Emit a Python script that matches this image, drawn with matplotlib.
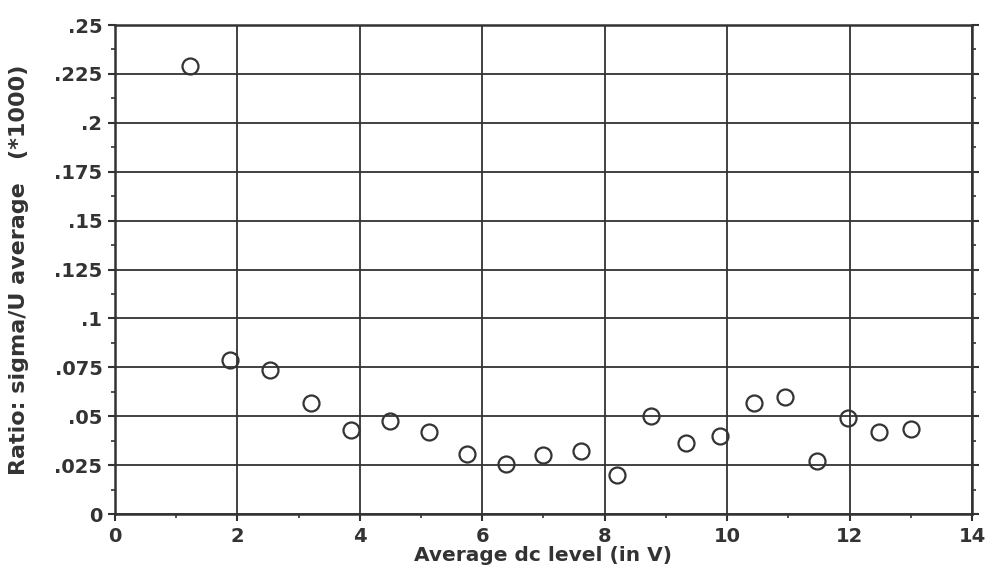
import matplotlib
matplotlib.use("Agg")
import matplotlib.pyplot as plt
import matplotlib.ticker as ticker

# Average dc level (V) and noise ratio sigma/U average (*1000)
dc_level = [1.23, 1.88, 2.53, 3.20, 3.86, 4.49, 5.13, 5.75, 6.39, 6.99, 7.61,
            8.20, 8.76, 9.33, 9.89, 10.44, 10.95, 11.47, 11.98, 12.48, 13.00]
ratio = [0.229, 0.0787, 0.0736, 0.0567, 0.0429, 0.0475, 0.0419, 0.0307, 0.0256,
         0.0302, 0.0322, 0.0199, 0.0501, 0.0363, 0.0399, 0.0567, 0.0598, 0.0271,
         0.0491, 0.0419, 0.0435]

x_ticks = [0, 2, 4, 6, 8, 10, 12, 14]
y_ticks = [0, 0.025, 0.05, 0.075, 0.1, 0.125, 0.15, 0.175, 0.2, 0.225, 0.25]
y_tick_labels = ["0", ".025", ".05", ".075", ".1", ".125", ".15", ".175", ".2",
                 ".225", ".25"]

INK = "#333333"

plt.rcParams["font.family"] = ["DejaVu Sans"]
plt.rcParams["font.weight"] = "bold"

fig = plt.figure(figsize=(9.86, 5.78), dpi=100, facecolor="white")
ax = fig.add_axes([0.1166, 0.1107, 0.8692, 0.8460])

ax.plot(dc_level, ratio, linestyle="none", marker="o", markersize=11.5,
        markerfacecolor="none", markeredgecolor=INK, markeredgewidth=1.6,
        zorder=5, clip_on=False)

ax.set_xlim(0, 14)
ax.set_ylim(0, 0.25)
ax.set_xticks(x_ticks)
ax.set_xticklabels([str(v) for v in x_ticks])
ax.set_yticks(y_ticks)
ax.set_yticklabels(y_tick_labels)
ax.xaxis.set_minor_locator(ticker.MultipleLocator(1))
ax.yaxis.set_minor_locator(ticker.MultipleLocator(0.0125))

ax.grid(which="major", color=INK, linewidth=1.3)
ax.set_axisbelow(True)
for sp in ax.spines.values():
    sp.set_color(INK)
    sp.set_linewidth(1.8)

ax.tick_params(which="major", direction="out", length=5, width=1.5,
               color=INK, labelcolor=INK, labelsize=14, pad=4)
ax.tick_params(which="minor", direction="out", length=3, width=1.2, color=INK)
ax.tick_params(axis="y", which="both", right=True)

ax.set_xlabel("Average dc level (in V)", fontsize=14.5, fontweight="bold",
              color=INK, labelpad=0)
ax.set_ylabel("Ratio: sigma/U average   (*1000)", fontsize=16,
              fontweight="bold", color=INK, labelpad=18)

fig.savefig("out.png", dpi=100, facecolor="white")
